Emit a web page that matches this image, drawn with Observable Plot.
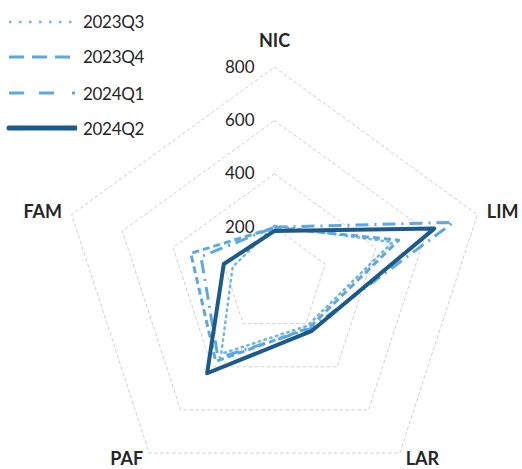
<!DOCTYPE html>
<html>
<head>
<meta charset="utf-8">
<script src="https://cdn.jsdelivr.net/npm/d3@7"></script>
<script src="https://cdn.jsdelivr.net/npm/@observablehq/plot@0.6"></script>
<style>
  html, body { margin: 0; padding: 0; background: #fff; }
  #wrap { position: relative; width: 522px; height: 469px; font-family: Lato, "Open Sans", sans-serif; }
  #legend { position: absolute; left: 0; top: 0; }
  .row { position: absolute; left: 0; height: 20px; display: flex; align-items: center; }
  .row svg { display: block; }
  .row span { font-size: 17px; color: #262626; margin-left: 6px; letter-spacing: -0.3px; }
  svg { display: block; }
</style>
</head>
<body>
<div id="wrap"><div id="legend"></div></div>
<script>
const categories = ["NIC", "LIM", "LAR", "PAF", "FAM"];
const tickValues = [200, 400, 600, 800];
const seriesNames = ["2023Q3", "2023Q4", "2024Q1", "2024Q2"];
const v2023Q3 = [205, 465, 210, 340, 165];
const v2023Q4 = [198, 490, 220, 375, 330];
const v2024Q1 = [200, 705, 225, 360, 290];
const v2024Q2 = [186, 630, 235, 430, 200];
const seriesValues = [v2023Q3, v2023Q4, v2024Q1, v2024Q2];

const styles = [
  {stroke: "#70b5e6", strokeWidth: 2.5, dash: "1.5 4.5", cap: "round", legendDash: "2.5 7.5", legendCap: "butt", legendWidth: 2.5},
  {stroke: "#5ea8e0", strokeWidth: 3, dash: "7 4", cap: "butt", legendDash: "15 8", legendCap: "butt", legendWidth: 3},
  {stroke: "#5ea8e0", strokeWidth: 3, dash: "13 6 2 6", cap: "butt", legendDash: "15 15 15 18 3 40", legendCap: "butt", legendWidth: 3},
  {stroke: "#1d5a8c", strokeWidth: 4, dash: null, cap: "round", legendDash: null, legendCap: "round", legendWidth: 5}
];

const W = 522, H = 469, cx = 274, cy = 280, R = 213.3, maxV = 800;
const k = R / maxV;
const n = categories.length;
const ang = i => 2 * Math.PI * i / n;

function polygon(values, extra) {
  const pts = values.map((v, i) => ({x: v * Math.sin(ang(i)), y: v * Math.cos(ang(i)), ...extra}));
  pts.push({...pts[0]});
  return pts;
}

const ringData = tickValues.flatMap(t => polygon(categories.map(() => t), {t}));

const marks = [
  Plot.line(ringData, {x: "x", y: "y", z: "t", stroke: "#d0d0d0", strokeWidth: 1, strokeDasharray: "3 3"})
];

seriesValues.forEach((vals, si) => {
  const s = styles[si];
  marks.push(Plot.line(polygon(vals, {series: seriesNames[si]}), {
    x: "x", y: "y", stroke: s.stroke, strokeWidth: s.strokeWidth,
    strokeDasharray: s.dash || undefined, strokeLinecap: s.cap, strokeLinejoin: "round"
  }));
});

marks.push(Plot.text(tickValues, {
  x: () => 0, y: d => d, text: d => String(d), textAnchor: "end", dx: -20,
  fontSize: 17, fill: "#262626"
}));

categories.forEach((c, i) => {
  const s = Math.sin(ang(i)), co = Math.cos(ang(i));
  const anchor = s > 0.1 ? "start" : s < -0.1 ? "end" : "middle";
  const dy = Math.abs(s) < 0.1 ? -26 : (co > 0 ? -2 : 6);
  marks.push(Plot.text([c], {
    x: () => maxV * s, y: () => maxV * co, text: d => d,
    textAnchor: anchor, dx: 10 * s, dy, fontSize: 18, fontWeight: "bold", fill: "#262626"
  }));
});

const chart = Plot.plot({
  width: W, height: H, margin: 0,
  x: {domain: [-cx / k, (W - cx) / k], range: [0, W], axis: null},
  y: {domain: [-(H - cy) / k, cy / k], range: [H, 0], axis: null},
  style: {fontFamily: "Lato, 'Open Sans', sans-serif", background: "#fff"},
  marks
});
document.getElementById("wrap").prepend(chart);

const legend = document.getElementById("legend");
const rowY = [21.7, 56.7, 93.3, 128.3];
seriesNames.forEach((name, si) => {
  const s = styles[si];
  const row = document.createElement("div");
  row.className = "row";
  row.style.top = (rowY[si] - 10) + "px";
  const svg = d3.create("svg").attr("width", 77).attr("height", 20);
  svg.append("line").attr("x1", 9).attr("x2", 76).attr("y1", 10).attr("y2", 10)
    .attr("stroke", s.stroke).attr("stroke-width", s.legendWidth)
    .attr("stroke-dasharray", s.legendDash).attr("stroke-linecap", s.legendCap);
  row.appendChild(svg.node());
  const span = document.createElement("span");
  span.textContent = name;
  row.appendChild(span);
  legend.appendChild(row);
});
</script>
</body>
</html>
